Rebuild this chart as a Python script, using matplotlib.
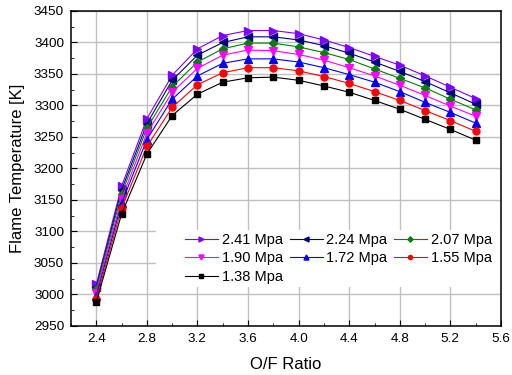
import numpy as np
import matplotlib
matplotlib.use('Agg')
from matplotlib import pyplot as plt
from matplotlib.patches import Rectangle
from matplotlib.ticker import MultipleLocator

plt.rcParams['font.family'] = ['Liberation Sans', 'DejaVu Sans']

of_ratio = [2.4, 2.6, 2.8, 3.0, 3.2, 3.4, 3.6, 3.8, 4.0, 4.2, 4.4, 4.6, 4.8, 5.0, 5.2, 5.4]

t_241 = [3016, 3172, 3279, 3348, 3390, 3411, 3419, 3419, 3414, 3404, 3392, 3378, 3364, 3347, 3329, 3311]
t_224 = [3012, 3166, 3271, 3340, 3380, 3400, 3409, 3409, 3404, 3395, 3383, 3369, 3354, 3338, 3320, 3302]
t_207 = [3008, 3160, 3264, 3330, 3369, 3390, 3399, 3399, 3393, 3384, 3373, 3358, 3343, 3328, 3310, 3293]
t_190 = [3003, 3152, 3256, 3321, 3359, 3380, 3388, 3387, 3381, 3372, 3360, 3347, 3332, 3316, 3299, 3283]
t_172 = [2998, 3145, 3246, 3310, 3347, 3367, 3374, 3374, 3369, 3360, 3349, 3337, 3322, 3305, 3289, 3272]
t_155 = [2993, 3137, 3235, 3297, 3333, 3352, 3360, 3360, 3355, 3346, 3335, 3322, 3308, 3292, 3276, 3259]
t_138 = [2988, 3128, 3223, 3284, 3318, 3337, 3344, 3345, 3340, 3331, 3321, 3308, 3294, 3278, 3262, 3245]

series = [
    ('2.41 Mpa', t_241, '#7f00ff', '>'),
    ('2.24 Mpa', t_224, '#000080', '<'),
    ('2.07 Mpa', t_207, '#008000', 'D'),
    ('1.90 Mpa', t_190, '#ff00ff', 'v'),
    ('1.72 Mpa', t_172, '#0000ff', '^'),
    ('1.55 Mpa', t_155, '#ff0000', 'o'),
    ('1.38 Mpa', t_138, '#000000', 's'),
]
marker_sizes = {'>': 6, '<': 6, 'v': 6, '^': 6, 'D': 4.5, 'o': 5, 's': 4.5}

fig = plt.figure(figsize=(5.12, 3.75), dpi=100)
ax = fig.add_axes([0.1387, 0.1307, 0.8398, 0.84])

handles = {}
for name, vals, col, mk in series:
    h, = ax.plot(of_ratio, vals, color=col, marker=mk, markersize=marker_sizes[mk],
                 linewidth=0.8, label=name, zorder=3)
    handles[name] = h

ax.set_xlim(2.2, 5.6)
ax.set_ylim(2950, 3450)
ax.xaxis.set_major_locator(MultipleLocator(0.4))
ax.xaxis.set_minor_locator(MultipleLocator(0.2))
ax.yaxis.set_major_locator(MultipleLocator(50))
ax.yaxis.set_minor_locator(MultipleLocator(25))
ax.tick_params(which='both', direction='in', labelsize=9.7, top=False, right=False, pad=5)
ax.tick_params(which='major', length=4)
ax.tick_params(which='minor', length=2.5)
ax.grid(True, which='major', color='#c0c0c0', linewidth=1, zorder=0)
ax.set_axisbelow(True)
for sp in ax.spines.values():
    sp.set_linewidth(1.1)

ax.set_xlabel('O/F Ratio', fontsize=12, labelpad=9)
ax.set_ylabel('Flame Temperature [K]', fontsize=12, labelpad=6)

# white patch behind the legend hides the grid there
ax.add_patch(Rectangle((0.198, 0.124), 0.802, 0.181, transform=ax.transAxes,
                       facecolor='white', edgecolor='none', zorder=1))

# legend reads row-wise in the original, matplotlib fills columns
order = ['2.41 Mpa', '1.90 Mpa', '1.38 Mpa', '2.24 Mpa', '1.72 Mpa', '2.07 Mpa', '1.55 Mpa']
leg = ax.legend(
    [handles[n] for n in order], order,
    ncols=3,
    loc='upper left',
    bbox_to_anchor=(0.265, 0.295),
    fontsize=10.5,
    handlelength=2.26,
    handletextpad=0.27,
    columnspacing=0.45,
    labelspacing=0.3,
    markerscale=0.6,
    frameon=False,
    borderpad=0,
    borderaxespad=0,
)

plt.savefig('out.png', dpi=100)
plt.close()
